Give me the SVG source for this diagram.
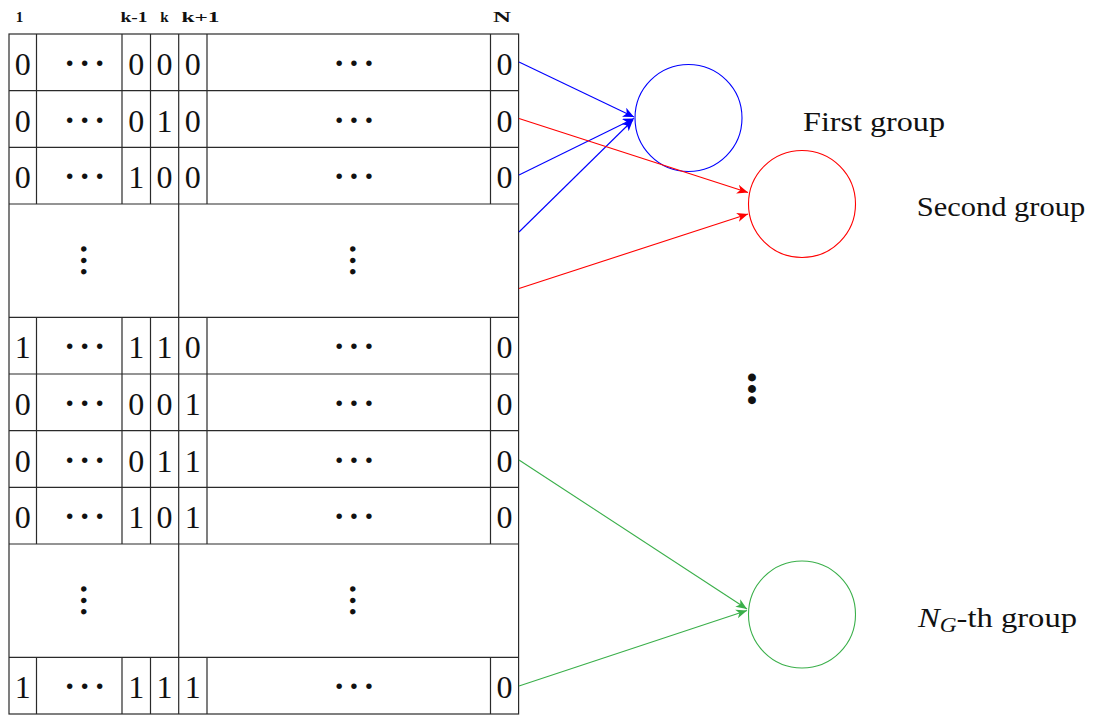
<svg xmlns="http://www.w3.org/2000/svg" width="1094" height="720" viewBox="0 0 1094 720">
  <style>
    .grid { stroke: #2a2a2a; stroke-width: 1.2; fill: none; }
    .dig { font-family: "Liberation Serif", serif; font-size: 32px; fill: #111; text-anchor: middle; }
    .hdr { font-family: "Liberation Serif", serif; font-size: 15px; font-weight: bold; fill: #111; text-anchor: middle; }
    .hdots { font-family: "Liberation Serif", serif; font-size: 34px; font-weight: bold; letter-spacing: 3.6px; fill: #111; text-anchor: middle; }
    .vdots { font-family: "Liberation Serif", serif; font-size: 34px; font-weight: bold; letter-spacing: 0px; fill: #111; }
    .bigdots { font-family: "Liberation Serif", serif; font-size: 48px; font-weight: bold; letter-spacing: -4.7px; fill: #111; }
    .lbl { font-family: "Liberation Serif", serif; font-size: 28px; fill: #111; }
    .grp { fill: none; stroke-width: 1.1; }
    .conn { fill: none; stroke-width: 1.1; }
  </style>
  <defs>
    <marker id="ahBlue" markerUnits="userSpaceOnUse" markerWidth="12" markerHeight="10" refX="11" refY="5" orient="auto">
      <path d="M0,0 L11,5 L0,10 L3,5 Z" fill="#0000ff"/>
    </marker>
    <marker id="ahRed" markerUnits="userSpaceOnUse" markerWidth="12" markerHeight="10" refX="11" refY="5" orient="auto">
      <path d="M0,0.5 L11,5 L0,9.5 L3,5 Z" fill="#ff0000"/>
    </marker>
    <marker id="ahGreen" markerUnits="userSpaceOnUse" markerWidth="12" markerHeight="10" refX="11" refY="5" orient="auto">
      <path d="M0,0.5 L11,5 L0,9.5 L3,5 Z" fill="#3aaf4a"/>
    </marker>
  </defs>

  <!-- column headers -->
  <g id="headers">
    <text class="hdr" x="19.4" y="22">1</text>
    <text class="hdr" x="134" y="22" textLength="27" lengthAdjust="spacingAndGlyphs">k-1</text>
    <text class="hdr" x="164.3" y="22">k</text>
    <text class="hdr" x="200.5" y="22" textLength="38" lengthAdjust="spacingAndGlyphs">k+1</text>
    <text class="hdr" x="502" y="22" textLength="18" lengthAdjust="spacingAndGlyphs">N</text>
  </g>

  <!-- bit table -->
  <g id="table">
    <g class="grid">
      <rect x="9" y="34" width="509.6" height="680"/>
      <line x1="178.7" y1="34" x2="178.7" y2="714"/>
      <!-- horizontal row separators -->
      <line x1="9" y1="90.67" x2="518.6" y2="90.67"/>
      <line x1="9" y1="147.33" x2="518.6" y2="147.33"/>
      <line x1="9" y1="204" x2="518.6" y2="204"/>
      <line x1="9" y1="317.33" x2="518.6" y2="317.33"/>
      <line x1="9" y1="374" x2="518.6" y2="374"/>
      <line x1="9" y1="430.67" x2="518.6" y2="430.67"/>
      <line x1="9" y1="487.33" x2="518.6" y2="487.33"/>
      <line x1="9" y1="544" x2="518.6" y2="544"/>
      <line x1="9" y1="657.33" x2="518.6" y2="657.33"/>
      <!-- inner column separators, block 1 -->
      <path d="M36.5,34V204 M122,34V204 M150.5,34V204 M207,34V204 M490.5,34V204"/>
      <!-- block 2 -->
      <path d="M36.5,317.33V544 M122,317.33V544 M150.5,317.33V544 M207,317.33V544 M490.5,317.33V544"/>
      <!-- block 3 -->
      <path d="M36.5,657.33V714 M122,657.33V714 M150.5,657.33V714 M207,657.33V714 M490.5,657.33V714"/>
    </g>

    <g id="row1">
      <text class="dig" x="22.7" y="74.8">0</text>
      <text class="hdots" x="86.5" y="74">···</text>
      <text class="dig" x="136.2" y="74.8">0</text>
      <text class="dig" x="164.6" y="74.8">0</text>
      <text class="dig" x="192.8" y="74.8">0</text>
      <text class="hdots" x="355.8" y="74">···</text>
      <text class="dig" x="504.5" y="74.8">0</text>
    </g>
    <g id="row2">
      <text class="dig" x="22.7" y="131.5">0</text>
      <text class="hdots" x="86.5" y="130.7">···</text>
      <text class="dig" x="136.2" y="131.5">0</text>
      <text class="dig" x="164.6" y="131.5">1</text>
      <text class="dig" x="192.8" y="131.5">0</text>
      <text class="hdots" x="355.8" y="130.7">···</text>
      <text class="dig" x="504.5" y="131.5">0</text>
    </g>
    <g id="row3">
      <text class="dig" x="22.7" y="188.1">0</text>
      <text class="hdots" x="86.5" y="187.3">···</text>
      <text class="dig" x="136.2" y="188.1">1</text>
      <text class="dig" x="164.6" y="188.1">0</text>
      <text class="dig" x="192.8" y="188.1">0</text>
      <text class="hdots" x="355.8" y="187.3">···</text>
      <text class="dig" x="504.5" y="188.1">0</text>
    </g>
    <!-- vertical ellipses: the same dot string, turned a quarter turn -->
    <g id="gap1">
      <text class="vdots" transform="translate(72.6 243.3) rotate(90)">···</text>
      <text class="vdots" transform="translate(341.8 243.3) rotate(90)">···</text>
    </g>
    <g id="row4">
      <text class="dig" x="22.7" y="358.1">1</text>
      <text class="hdots" x="86.5" y="357.3">···</text>
      <text class="dig" x="136.2" y="358.1">1</text>
      <text class="dig" x="164.6" y="358.1">1</text>
      <text class="dig" x="192.8" y="358.1">0</text>
      <text class="hdots" x="355.8" y="357.3">···</text>
      <text class="dig" x="504.5" y="358.1">0</text>
    </g>
    <g id="row5">
      <text class="dig" x="22.7" y="414.8">0</text>
      <text class="hdots" x="86.5" y="414">···</text>
      <text class="dig" x="136.2" y="414.8">0</text>
      <text class="dig" x="164.6" y="414.8">0</text>
      <text class="dig" x="192.8" y="414.8">1</text>
      <text class="hdots" x="355.8" y="414">···</text>
      <text class="dig" x="504.5" y="414.8">0</text>
    </g>
    <g id="row6">
      <text class="dig" x="22.7" y="471.5">0</text>
      <text class="hdots" x="86.5" y="470.7">···</text>
      <text class="dig" x="136.2" y="471.5">0</text>
      <text class="dig" x="164.6" y="471.5">1</text>
      <text class="dig" x="192.8" y="471.5">1</text>
      <text class="hdots" x="355.8" y="470.7">···</text>
      <text class="dig" x="504.5" y="471.5">0</text>
    </g>
    <g id="row7">
      <text class="dig" x="22.7" y="528.1">0</text>
      <text class="hdots" x="86.5" y="527.3">···</text>
      <text class="dig" x="136.2" y="528.1">1</text>
      <text class="dig" x="164.6" y="528.1">0</text>
      <text class="dig" x="192.8" y="528.1">1</text>
      <text class="hdots" x="355.8" y="527.3">···</text>
      <text class="dig" x="504.5" y="528.1">0</text>
    </g>
    <g id="gap2">
      <text class="vdots" transform="translate(72.6 583.3) rotate(90)">···</text>
      <text class="vdots" transform="translate(341.8 583.3) rotate(90)">···</text>
    </g>
    <g id="row8">
      <text class="dig" x="22.7" y="698.1">1</text>
      <text class="hdots" x="86.5" y="697.3">···</text>
      <text class="dig" x="136.2" y="698.1">1</text>
      <text class="dig" x="164.6" y="698.1">1</text>
      <text class="dig" x="192.8" y="698.1">1</text>
      <text class="hdots" x="355.8" y="697.3">···</text>
      <text class="dig" x="504.5" y="698.1">0</text>
    </g>
  </g>

  <!-- group nodes -->
  <g id="group-first">
    <circle class="grp" cx="688.5" cy="118" r="53.5" stroke="#0000ff"/>
    <text class="lbl" x="803" y="130.7" textLength="142" lengthAdjust="spacingAndGlyphs">First group</text>
  </g>
  <g id="group-second">
    <circle class="grp" cx="802" cy="204" r="53.5" stroke="#ff0000"/>
    <text class="lbl" x="916.7" y="215.5" textLength="168.5" lengthAdjust="spacingAndGlyphs">Second group</text>
  </g>
  <g id="group-more">
    <text class="bigdots" transform="translate(736 369.6) rotate(90)">···</text>
  </g>
  <g id="group-last">
    <circle class="grp" cx="802" cy="614.5" r="53.5" stroke="#3aaf4a"/>
    <text class="lbl" x="918" y="627" textLength="159" lengthAdjust="spacingAndGlyphs"><tspan font-style="italic">N</tspan><tspan font-style="italic" font-size="20px" dy="5">G</tspan><tspan dy="-5">-th group</tspan></text>
  </g>

  <!-- connectors -->
  <g id="connectors">
    <line class="conn" x1="519" y1="62" x2="634" y2="117" stroke="#0000ff" marker-end="url(#ahBlue)"/>
    <line class="conn" x1="519" y1="175" x2="634" y2="118.5" stroke="#0000ff" marker-end="url(#ahBlue)"/>
    <line class="conn" x1="519" y1="232" x2="633" y2="120" stroke="#0000ff" marker-end="url(#ahBlue)"/>
    <line class="conn" x1="519" y1="118.5" x2="748" y2="192.5" stroke="#ff0000" marker-end="url(#ahRed)"/>
    <line class="conn" x1="519" y1="288.5" x2="748" y2="214" stroke="#ff0000" marker-end="url(#ahRed)"/>
    <line class="conn" x1="519" y1="460" x2="747" y2="609" stroke="#3aaf4a" marker-end="url(#ahGreen)"/>
    <line class="conn" x1="519" y1="686" x2="747" y2="610.5" stroke="#3aaf4a" marker-end="url(#ahGreen)"/>
  </g>
</svg>
